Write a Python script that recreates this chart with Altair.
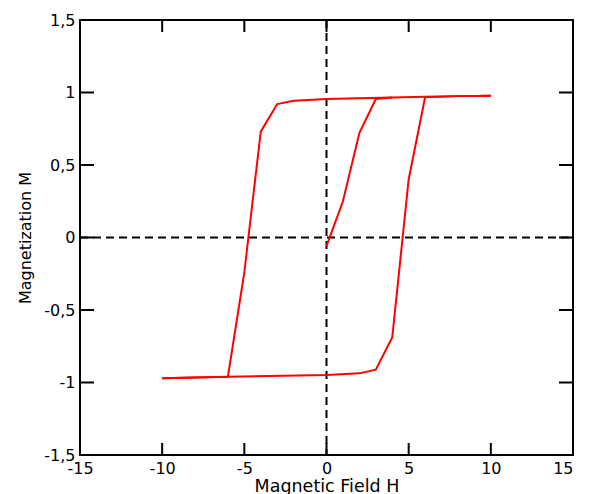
import altair as alt
import pandas as pd

# Hysteresis loop data
branch_init_H = [0, 1, 2, 3, 4]
branch_init_M = [-0.06, 0.25, 0.72, 0.955, 0.966]

branch_down_H = [10, 8, 6, 4, 2, 0, -2, -3, -4, -5, -6, -8, -10]
branch_down_M = [0.978, 0.975, 0.971, 0.966, 0.961, 0.955, 0.943, 0.92, 0.73, -0.24, -0.96, -0.966, -0.971]

branch_up_H = [-10, -6, 0, 2, 3, 4, 5, 6, 8, 10]
branch_up_M = [-0.971, -0.96, -0.948, -0.937, -0.912, -0.69, 0.40, 0.967, 0.975, 0.978]

x_ticks = [-10, -5, 0, 5, 10]
y_ticks = [-1, -0.5, 0, 0.5, 1]
x_labels = [-15, -10, -5, 0, 5, 10, 15]
y_labels = [-1.5, -1, -0.5, 0, 0.5, 1, 1.5]

W, H = 493, 435
FONT = "DejaVu Sans"

rows = []
for name, hs, ms in [("init", branch_init_H, branch_init_M),
                     ("down", branch_down_H, branch_down_M),
                     ("up", branch_up_H, branch_up_M)]:
    for i, (h, m) in enumerate(zip(hs, ms)):
        rows.append({"branch": name, "idx": i, "H": h, "M": m})
df = pd.DataFrame(rows)

xscale = alt.Scale(domain=[-15, 15], nice=False, zero=False)
yscale = alt.Scale(domain=[-1.5, 1.5], nice=False, zero=False)

lbl = "replace(toString(datum.value), '.', ',')"

xaxis = alt.Axis(values=x_labels, ticks=False, tickSize=0, domain=False, grid=False,
                 labelFontSize=16, labelFont=FONT, labelColor="black",
                 labelPadding=5, labelFlush=False, labelOverlap=False, labelExpr=lbl,
                 labelAlign={"expr": "datum.value == 15 ? 'right' : 'center'"},
                 title="Magnetic Field H", titleFontSize=17.5, titleFont=FONT,
                 titleFontWeight="normal", titleColor="black",
                 titleBaseline="alphabetic", titleY=36.5)
yaxis = alt.Axis(values=y_labels, ticks=False, tickSize=0, domain=False, grid=False,
                 labelFontSize=16, labelFont=FONT, labelColor="black",
                 labelPadding=5, labelFlush=False, labelOverlap=False, labelExpr=lbl,
                 title="Magnetization M", titleFontSize=16, titleFont=FONT,
                 titleFontWeight="normal", titleColor="black",
                 titleBaseline="middle", titleX=-55, titleY=H / 2)

loop = alt.Chart(df).mark_line(color="#ff0000", strokeWidth=2).encode(
    x=alt.X("H:Q", scale=xscale, axis=xaxis),
    y=alt.Y("M:Q", scale=yscale, axis=yaxis),
    detail="branch:N",
    order="idx:Q",
)

zero_v = alt.Chart(pd.DataFrame({"H": [0]})).mark_rule(
    color="black", strokeWidth=2, strokeDash=[8, 5]).encode(
    x=alt.X("H:Q", scale=xscale), y=alt.value(0), y2=alt.value(H))
zero_h = alt.Chart(pd.DataFrame({"M": [0]})).mark_rule(
    color="black", strokeWidth=2, strokeDash=[8, 5]).encode(
    y=alt.Y("M:Q", scale=yscale), x=alt.value(0), x2=alt.value(W))

xt = pd.DataFrame({"H": x_ticks})
yt = pd.DataFrame({"M": y_ticks})
tick_b = alt.Chart(xt).mark_rule(color="black", strokeWidth=2).encode(
    x=alt.X("H:Q", scale=xscale), y=alt.value(H - 12), y2=alt.value(H))
tick_t = alt.Chart(xt).mark_rule(color="black", strokeWidth=2).encode(
    x=alt.X("H:Q", scale=xscale), y=alt.value(0), y2=alt.value(12))
tick_l = alt.Chart(yt).mark_rule(color="black", strokeWidth=2).encode(
    y=alt.Y("M:Q", scale=yscale), x=alt.value(0), x2=alt.value(14))
tick_r = alt.Chart(yt).mark_rule(color="black", strokeWidth=2).encode(
    y=alt.Y("M:Q", scale=yscale), x=alt.value(W - 14), x2=alt.value(W))

chart = alt.layer(zero_v, zero_h, tick_b, tick_t, tick_l, tick_r, loop).properties(
    width=W, height=H,
    autosize=alt.AutoSizeParams(type="none"),
    padding={"left": 72, "top": 12, "right": 8, "bottom": 39},
    background="white",
).configure_view(stroke="black", strokeWidth=2)

chart.save("out.html", embed_options={"renderer": "svg", "actions": False})
